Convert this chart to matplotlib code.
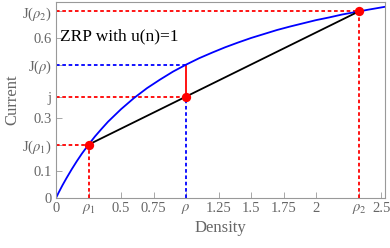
import numpy as np
import matplotlib
matplotlib.use("Agg")
import matplotlib.pyplot as plt

# --- DATA ---
density = [0.0, 0.02, 0.05, 0.08, 0.12, 0.16, 0.2, 0.25, 0.3, 0.35, 0.4, 0.5, 0.6,
           0.7, 0.8, 0.9, 1.0, 1.1, 1.2, 1.3, 1.4, 1.5, 1.6, 1.7, 1.8, 1.9, 2.0,
           2.1, 2.2, 2.3, 2.4, 2.53]
current = [0.0, 0.020, 0.048, 0.074, 0.107, 0.138, 0.167, 0.2, 0.231, 0.259,
           0.286, 0.333, 0.375, 0.412, 0.444, 0.474, 0.5, 0.524, 0.545, 0.565,
           0.583, 0.6, 0.615, 0.630, 0.643, 0.655, 0.667, 0.677, 0.688, 0.697,
           0.706, 0.717]

rho1, J1 = 0.25, 0.2
rho, Jrho, j = 1.0, 0.5, 0.38
rho2, J2 = 2.33, 0.7

xticks = [0, rho1, 0.5, 0.75, rho, 1.25, 1.5, 1.75, 2, rho2, 2.5]
xlabels = ["0", r"$\rho_1$", "0.5", "0.75", r"$\rho$", "1.25", "1.5", "1.75", "2",
           r"$\rho_2$", "2.5"]
yticks = [0, 0.1, J1, 0.3, j, Jrho, 0.6, J2]
ylabels = ["0", "0.1", r"J($\rho_1$)", "0.3", "j", r"J($\rho$)", "0.6", r"J($\rho_2$)"]

plt.rcParams["font.family"] = "Liberation Serif"
plt.rcParams["mathtext.fontset"] = "stix"

gray = "#666666"
fig = plt.figure(figsize=(3.9, 2.48), dpi=100)
ax = fig.add_axes([0.1436, 0.2016, 0.8436, 0.7904])

dash = (0, (2, 1.5))
# guide lines
ax.plot([0, rho1], [J1, J1], color="red", lw=1.3, linestyle=dash)
ax.plot([rho1, rho1], [0, J1], color="red", lw=1.3, linestyle=dash)
ax.plot([0, rho2], [J2, J2], color="red", lw=1.3, linestyle=dash)
ax.plot([rho2, rho2], [0, J2], color="red", lw=1.3, linestyle=dash)
ax.plot([0, rho], [j, j], color="red", lw=1.3, linestyle=dash)
ax.plot([0, rho], [Jrho, Jrho], color="blue", lw=1.3, linestyle=dash)
ax.plot([rho, rho], [0, j], color="blue", lw=1.3, linestyle=dash)
ax.plot([rho, rho], [j, Jrho], color="red", lw=1.3)

# current curve and chord
ax.plot(density, current, color="blue", lw=1.3)
ax.plot([rho1, rho2], [J1, J2], color="black", lw=1.3)
ax.scatter([rho1, rho, rho2], [J1, j, J2], s=45, color="red", zorder=5, linewidths=0)

ax.text(0.03, 0.607, "ZRP with u(n)=1", fontsize=12.5, color="black", va="center")

ax.set_xlim(0, 2.53)
ax.set_ylim(0, 0.735)
ax.set_xticks(xticks)
ax.set_xticklabels(xlabels)
ax.set_yticks(yticks)
ax.set_yticklabels(ylabels)
ax.tick_params(direction="in", length=4, width=0.6, color="#999999", labelcolor=gray,
               labelsize=10.5, pad=3)
for s in ax.spines.values():
    s.set_color("#999999")
    s.set_linewidth(0.8)

ax.set_xlabel("Density", fontsize=12, color=gray, labelpad=3)
ax.set_ylabel("Current", fontsize=12, color=gray, labelpad=1)

fig.savefig("out.png", dpi=100)
